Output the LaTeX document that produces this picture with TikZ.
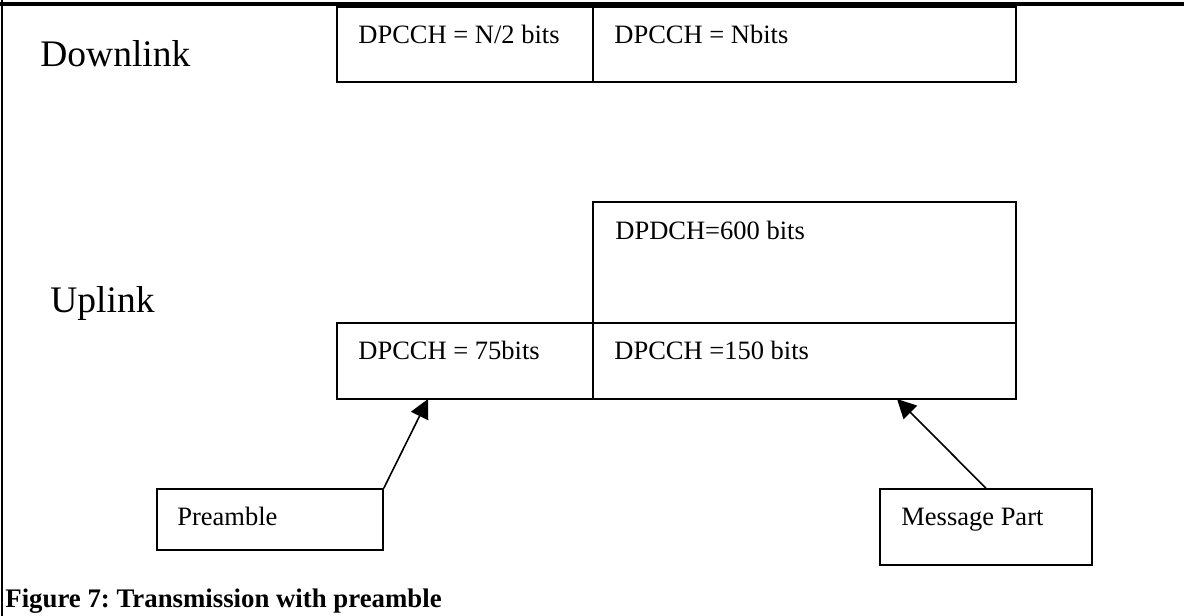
\documentclass[tikz,border=0pt]{standalone}
\usepackage{fontspec}
\setmainfont{Liberation Serif}
\usetikzlibrary{arrows.meta}
\frenchspacing

\begin{document}
\begin{tikzpicture}[x=0.5pt, y=-0.5pt,
    box/.style={draw, line width=0.8pt, inner sep=0pt, minimum width=#1},
    txt/.style={anchor=base west, inner sep=0pt, font=\fontsize{13.25}{16}\selectfont},
    big/.style={anchor=base west, inner sep=0pt, font=\fontsize{18.75}{22}\selectfont},
    arr/.style={line width=0.8pt, -{Triangle[length=9.5pt, width=9.5pt]}}]
  \useasboundingbox (0,0) rectangle (1184,616);
  \draw[line width=1.6pt] (0,4) -- (1184,4);
  \draw[line width=1pt] (2,0) -- (2,616);

  \node[big] (dl) at (40,66)  {Downlink};
  \node[big] (ul) at (50,312) {Uplink};

  \node[box=128pt,   minimum height=37.5pt] (da) at (465,44.5)   {};
  \node[box=211.5pt, minimum height=37.5pt] (db) at (804.5,44.5) {};
  \node[box=211.5pt, minimum height=60.5pt] (ud) at (804.5,262.5) {};
  \node[box=128pt,   minimum height=38pt]   (ua) at (465,361)    {};
  \node[box=211.5pt, minimum height=38pt]   (ub) at (804.5,361)  {};
  \node[box=113pt,   minimum height=30.5pt] (pre) at (270,519.5) {};
  \node[box=106pt,   minimum height=38pt]   (msg) at (986,527)   {};

  \node[txt] (tda) at (358,43)  {DPCCH = N/2 bits};
  \node[txt] (tdb) at (614,43)  {DPCCH = Nbits};
  \node[txt] (tud) at (615,239) {DPDCH=600 bits};
  \node[txt] (tua) at (358,359) {DPCCH = 75bits};
  \node[txt] (tub) at (614,359) {DPCCH =150 bits};
  \node[txt] (tpre) at (177,525) {Preamble};
  \node[txt] (tmsg) at (901,525) {Message Part};

  \coordinate (pa) at (428,399);
  \coordinate (pb) at (897,399);
  \draw[arr] (pre.north east) -- (pa);
  \draw[arr] (msg.north) -- (pb);

  \node[txt, font=\fontsize{13.4}{16}\selectfont\bfseries] (cap) at (5,607)
    {Figure 7: Transmission with preamble};
\end{tikzpicture}
\end{document}
